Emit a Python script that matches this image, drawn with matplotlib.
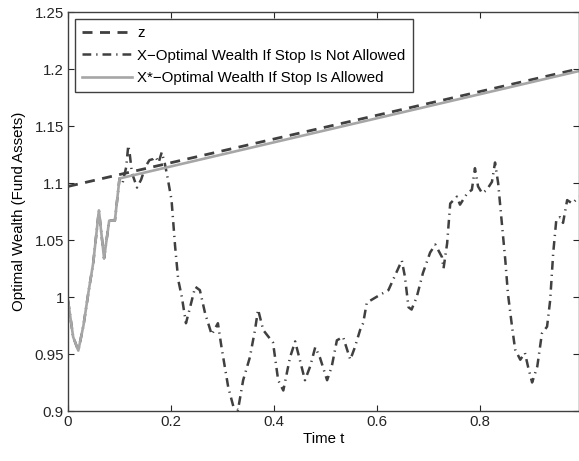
import matplotlib
matplotlib.use("Agg")
import matplotlib.pyplot as plt

plt.rcParams['font.family'] = ['Liberation Sans', 'DejaVu Sans']

# z: boundary line
z_t = [0.0, 0.99]
z_val = [1.097, 1.200]

# X*: wealth if stop is allowed (follows z after it hits)
xs_t = [0.0, 0.01, 0.02, 0.03, 0.04, 0.049, 0.06, 0.07, 0.08, 0.091, 0.1, 0.99]
xs_val = [0.997, 0.965, 0.953, 0.975, 1.005, 1.03, 1.076, 1.034, 1.067, 1.067, 1.104, 1.198]

# X: wealth if stop is not allowed
x_t = [0.0, 0.01, 0.02, 0.03, 0.04, 0.049, 0.06, 0.07, 0.08, 0.091, 0.1,
       0.106, 0.113, 0.117, 0.12, 0.124, 0.134, 0.142, 0.15, 0.158, 0.165,
       0.17, 0.176, 0.182, 0.188, 0.194, 0.201, 0.208, 0.214, 0.221, 0.229,
       0.237, 0.247, 0.256, 0.266, 0.279, 0.291, 0.298, 0.311, 0.321, 0.330,
       0.340, 0.353, 0.363, 0.369, 0.379, 0.398, 0.408, 0.418, 0.431, 0.441,
       0.450, 0.460, 0.470, 0.480, 0.489, 0.503, 0.512, 0.522, 0.534, 0.548,
       0.557, 0.567, 0.573, 0.580, 0.606, 0.622, 0.635, 0.648, 0.654, 0.661,
       0.667, 0.677, 0.689, 0.703, 0.713, 0.726, 0.729, 0.736, 0.742, 0.755,
       0.761, 0.775, 0.784, 0.790, 0.796, 0.804, 0.813, 0.823, 0.829, 0.835,
       0.843, 0.849, 0.854, 0.862, 0.868, 0.878, 0.887, 0.893, 0.901, 0.911,
       0.920, 0.930, 0.936, 0.942, 0.948, 0.955, 0.961, 0.969, 0.979, 0.992]
x_val = [0.997, 0.965, 0.953, 0.975, 1.005, 1.03, 1.076, 1.034, 1.067, 1.067, 1.104,
         1.100, 1.114, 1.133, 1.125, 1.109, 1.096, 1.103, 1.114, 1.120, 1.121,
         1.123, 1.118, 1.127, 1.117, 1.103, 1.085, 1.044, 1.015, 1.000, 0.977,
         0.991, 1.009, 1.006, 0.986, 0.967, 0.977, 0.956, 0.921, 0.904, 0.901,
         0.927, 0.947, 0.971, 0.989, 0.971, 0.960, 0.927, 0.918, 0.947, 0.961,
         0.945, 0.927, 0.939, 0.956, 0.947, 0.927, 0.939, 0.962, 0.965, 0.945,
         0.956, 0.971, 0.977, 0.995, 1.002, 1.006, 1.019, 1.032, 1.018, 0.991,
         0.989, 1.000, 1.021, 1.039, 1.046, 1.035, 1.025, 1.047, 1.082, 1.088,
         1.081, 1.091, 1.094, 1.113, 1.097, 1.091, 1.094, 1.101, 1.118, 1.100,
         1.061, 1.032, 1.003, 0.974, 0.954, 0.945, 0.951, 0.939, 0.925, 0.939,
         0.968, 0.974, 0.997, 1.039, 1.068, 1.070, 1.065, 1.085, 1.082, 1.088]

fig = plt.figure(figsize=(5.79, 4.61), dpi=100)
ax = fig.add_axes([68 / 579, 50 / 461, 511 / 579, 399 / 461])

ax.plot(z_t, z_val, color='#404040', lw=2.0, dashes=(3.6, 2.7), label='z')
ax.plot(x_t, x_val, color='#404040', lw=1.8, dashes=(3.5, 2.0, 0.5, 2.0),
        label='X\u2212Optimal Wealth If Stop Is Not Allowed')
ax.plot(xs_t, xs_val, color='#a6a6a6', lw=1.9,
        label='X*\u2212Optimal Wealth If Stop Is Allowed')

ax.set_xlim(0, 0.992)
ax.set_ylim(0.9, 1.25)
ax.set_xticks([0, 0.2, 0.4, 0.6, 0.8])
ax.set_xticklabels(['0', '0.2', '0.4', '0.6', '0.8'])
yt = [0.9, 0.95, 1.0, 1.05, 1.1, 1.15, 1.2, 1.25]
ax.set_yticks(yt)
ax.set_yticklabels(['0.9', '0.95', '1', '1.05', '1.1', '1.15', '1.2', '1.25'])
ax.tick_params(direction='in', top=True, right=True, labelsize=10.8,
               length=4, width=0.8, colors='#262626', pad=3)
for s in ax.spines.values():
    s.set_color('#404040')
    s.set_linewidth(1)

ax.set_xlabel('Time t', fontsize=10.8, labelpad=2)
ax.set_ylabel('Optimal Wealth (Fund Assets)', fontsize=10.8, labelpad=6)

leg = ax.legend(loc='upper left', fontsize=10.8, fancybox=False, framealpha=1,
                edgecolor='#404040', borderaxespad=0.45, handlelength=3.3,
                labelspacing=0.55, borderpad=0.5, handletextpad=0.35)
leg.get_frame().set_linewidth(1)

fig.savefig('out.png', dpi=100)
